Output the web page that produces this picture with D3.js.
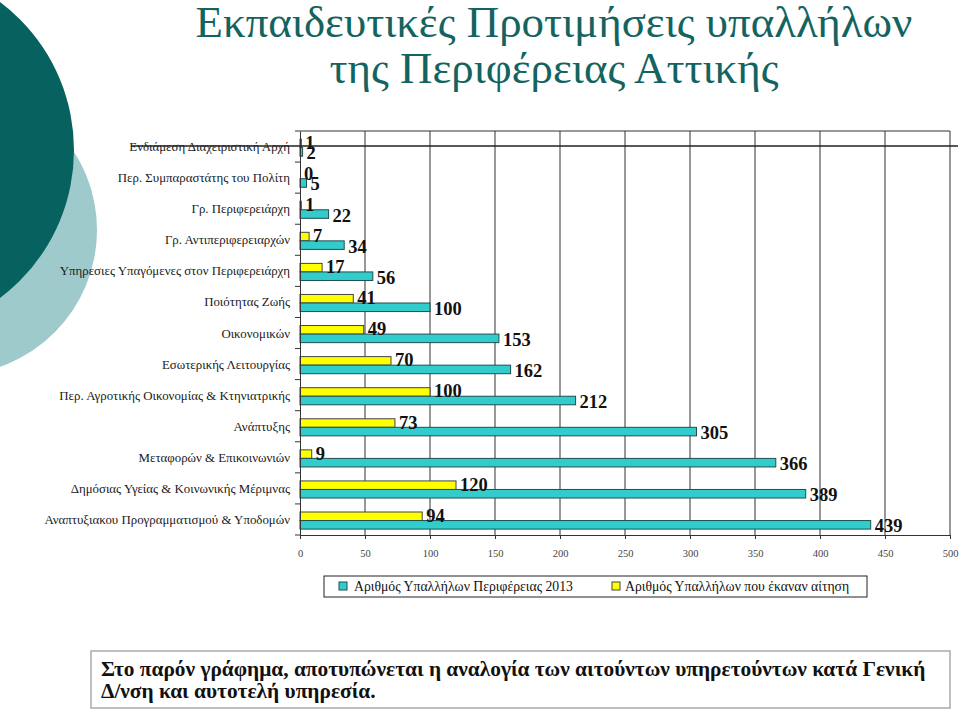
<!DOCTYPE html>
<html>
<head>
<meta charset="utf-8">
<script src="https://cdn.jsdelivr.net/npm/d3@7"></script>
<style>
  html, body { margin: 0; padding: 0; background: #ffffff; }
  svg { display: block; }
</style>
</head>
<body>
<svg id="chart" width="960" height="710"></svg>
<script>
// ---- Data ----
const titleLines = ["Εκπαιδευτικές Προτιμήσεις υπαλλήλων", "της Περιφέρειας Αττικής"];
const categories = [
  "Ενδιάμεση Διαχειριστική Αρχή",
  "Περ. Συμπαραστάτης του Πολίτη",
  "Γρ. Περιφερειάρχη",
  "Γρ. Αντιπεριφερειαρχών",
  "Υπηρεσιες Υπαγόμενες στον Περιφερειάρχη",
  "Ποιότητας Ζωής",
  "Οικονομικών",
  "Εσωτερικής Λειτουργίας",
  "Περ. Αγροτικής Οικονομίας & Κτηνιατρικής",
  "Ανάπτυξης",
  "Μεταφορών & Επικοινωνιών",
  "Δημόσιας Υγείας & Κοινωνικής Μέριμνας",
  "Αναπτυξιακου Προγραμματισμού & Υποδομών"
];
const applicants = [1, 0, 1, 7, 17, 41, 49, 70, 100, 73, 9, 120, 94];
const employees2013 = [2, 5, 22, 34, 56, 100, 153, 162, 212, 305, 366, 389, 439];
const xTicks = [0, 50, 100, 150, 200, 250, 300, 350, 400, 450, 500];
const seriesNames = ["Αριθμός Υπαλλήλων Περιφέρειας 2013", "Αριθμός Υπαλλήλων που έκαναν αίτηση"];
const noteLines = [
  "Στο παρόν γράφημα, αποτυπώνεται η αναλογία των αιτούντων υπηρετούντων κατά Γενική",
  "Δ/νση και αυτοτελή υπηρεσία."
];

// ---- Drawing ----
const svg = d3.select("#chart");
const FONT = '"Liberation Serif"';
const TEAL = "#33cccc", YELLOW = "#ffff00";

// fit a font size so that a reference text spans a given width
function fitSize(sel, targetW) {
  const base = parseFloat(sel.attr("font-size"));
  const w = sel.node().getComputedTextLength();
  return base * targetW / w;
}

// decorative circles
svg.append("circle").attr("cx", -48).attr("cy", 230).attr("r", 145).attr("fill", "#9ecacc");
svg.append("circle").attr("cx", -111).attr("cy", 150).attr("r", 185).attr("fill", "#06615f");

// title
const titles = svg.selectAll("text.title").data(titleLines).join("text")
  .attr("class", "title")
  .attr("x", 554).attr("y", (d, i) => 37 + i * 46)
  .attr("text-anchor", "middle")
  .style("font-family", FONT).attr("font-size", 44)
  .attr("fill", "#136460")
  .text(d => d);
titles.attr("font-size", fitSize(d3.select(titles.nodes()[0]), 717));

const x = d3.scaleLinear().domain([0, 500]).range([300, 950]);
const y = d3.scaleBand().domain(categories).range([131, 535]);
const bw = y.bandwidth();
const barH = bw * 0.275;
const barOff = bw * 0.26;

// gridlines
svg.append("g").selectAll("line").data(xTicks.filter(v => v > 0)).join("line")
  .attr("x1", d => x(d)).attr("x2", d => x(d))
  .attr("y1", 131).attr("y2", 535)
  .attr("stroke", "#333").attr("stroke-width", 1);
svg.append("line").attr("x1", 300).attr("x2", 950).attr("y1", 131).attr("y2", 131)
  .attr("stroke", "#333").attr("stroke-width", 1);

// bars
const rows = categories.map((c, i) => ({ c, a: applicants[i], e: employees2013[i] }));
const g = svg.append("g");
g.selectAll("rect.yel").data(rows).join("rect")
  .attr("x", x(0)).attr("y", d => y(d.c) + barOff)
  .attr("width", d => x(d.a) - x(0)).attr("height", barH)
  .attr("fill", YELLOW).attr("stroke", "#444").attr("stroke-width", 1);
g.selectAll("rect.teal").data(rows).join("rect")
  .attr("x", x(0)).attr("y", d => y(d.c) + barOff + barH)
  .attr("width", d => x(d.e) - x(0)).attr("height", barH)
  .attr("fill", TEAL).attr("stroke", "#1f4f4f").attr("stroke-width", 1);

// value labels
const lbl = svg.append("g");
lbl.selectAll("text.ya").data(rows).join("text")
  .attr("x", d => x(d.a) + 4).attr("y", d => y(d.c) + barOff + barH / 2 - 1)
  .attr("dy", "0.35em").text(d => d.a);
lbl.selectAll("text.te").data(rows).join("text")
  .attr("x", d => x(d.e) + 4).attr("y", d => y(d.c) + barOff + barH * 1.5 + 1)
  .attr("dy", "0.35em").text(d => d.e);
lbl.selectAll("text").style("font-family", FONT).attr("font-size", 18.5)
  .attr("font-weight", "bold").attr("fill", "#111");

// x axis
const xAxis = svg.append("g").attr("transform", "translate(0,535)")
  .call(d3.axisBottom(x).tickValues(xTicks).tickSize(4).tickPadding(11).tickSizeOuter(0));
xAxis.select(".domain").attr("stroke", "#333");
xAxis.selectAll(".tick line").attr("stroke", "#333");
xAxis.selectAll("text").style("font-family", FONT).attr("font-size", 10.5).attr("fill", "#444");

// y axis
const yAxis = svg.append("g").attr("transform", "translate(300,0)")
  .call(d3.axisLeft(y).tickSize(0).tickPadding(10).tickSizeOuter(0));
yAxis.select(".domain").attr("stroke", "#333");
const yTexts = yAxis.selectAll("text").style("font-family", FONT).attr("font-size", 12)
  .attr("fill", "#1a1a1a").attr("dy", "0.35em");
yTexts.attr("font-size", fitSize(d3.select(yTexts.nodes()[categories.length - 1]), 246));
const bounds = categories.map(c => y(c)).concat([y.range()[1]]);
yAxis.selectAll("line.bt").data(bounds).join("line")
  .attr("x1", -5).attr("x2", 0).attr("y1", d => d).attr("y2", d => d)
  .attr("stroke", "#333");

// stray horizontal line through first label
svg.append("line").attr("x1", 131).attr("x2", 958).attr("y1", 146).attr("y2", 146)
  .attr("stroke", "#222").attr("stroke-width", 1.4);

// legend
const lg = svg.append("g");
lg.append("rect").attr("x", 324).attr("y", 576).attr("width", 543).attr("height", 21)
  .attr("fill", "#fff").attr("stroke", "#222").attr("stroke-width", 1);
const legItems = [
  { name: seriesNames[0], color: TEAL, stroke: "#1f4f4f", mx: 339, tx: 354 },
  { name: seriesNames[1], color: YELLOW, stroke: "#444", mx: 612, tx: 625 }
];
lg.selectAll("rect.m").data(legItems).join("rect")
  .attr("x", d => d.mx).attr("y", 582).attr("width", 8).attr("height", 8)
  .attr("fill", d => d.color).attr("stroke", d => d.stroke);
const legTexts = lg.selectAll("text").data(legItems).join("text")
  .attr("x", d => d.tx).attr("y", 586.5).attr("dy", "0.35em")
  .style("font-family", FONT).attr("font-size", 13)
  .attr("fill", "#111").text(d => d.name);
legTexts.attr("font-size", fitSize(d3.select(legTexts.nodes()[0]), 219));

// note box
svg.append("rect").attr("x", 91).attr("y", 651).attr("width", 859).attr("height", 57)
  .attr("fill", "#fff").attr("stroke", "#aaa").attr("stroke-width", 1.5);
const notes = svg.selectAll("text.note").data(noteLines).join("text")
  .attr("class", "note")
  .attr("x", 101).attr("y", (d, i) => 676 + i * 22)
  .style("font-family", FONT).attr("font-size", 20).attr("font-weight", "bold")
  .attr("fill", "#111").text(d => d);
notes.attr("font-size", Math.min(22, fitSize(d3.select(notes.nodes()[0]), 825)));
</script>
</body>
</html>
